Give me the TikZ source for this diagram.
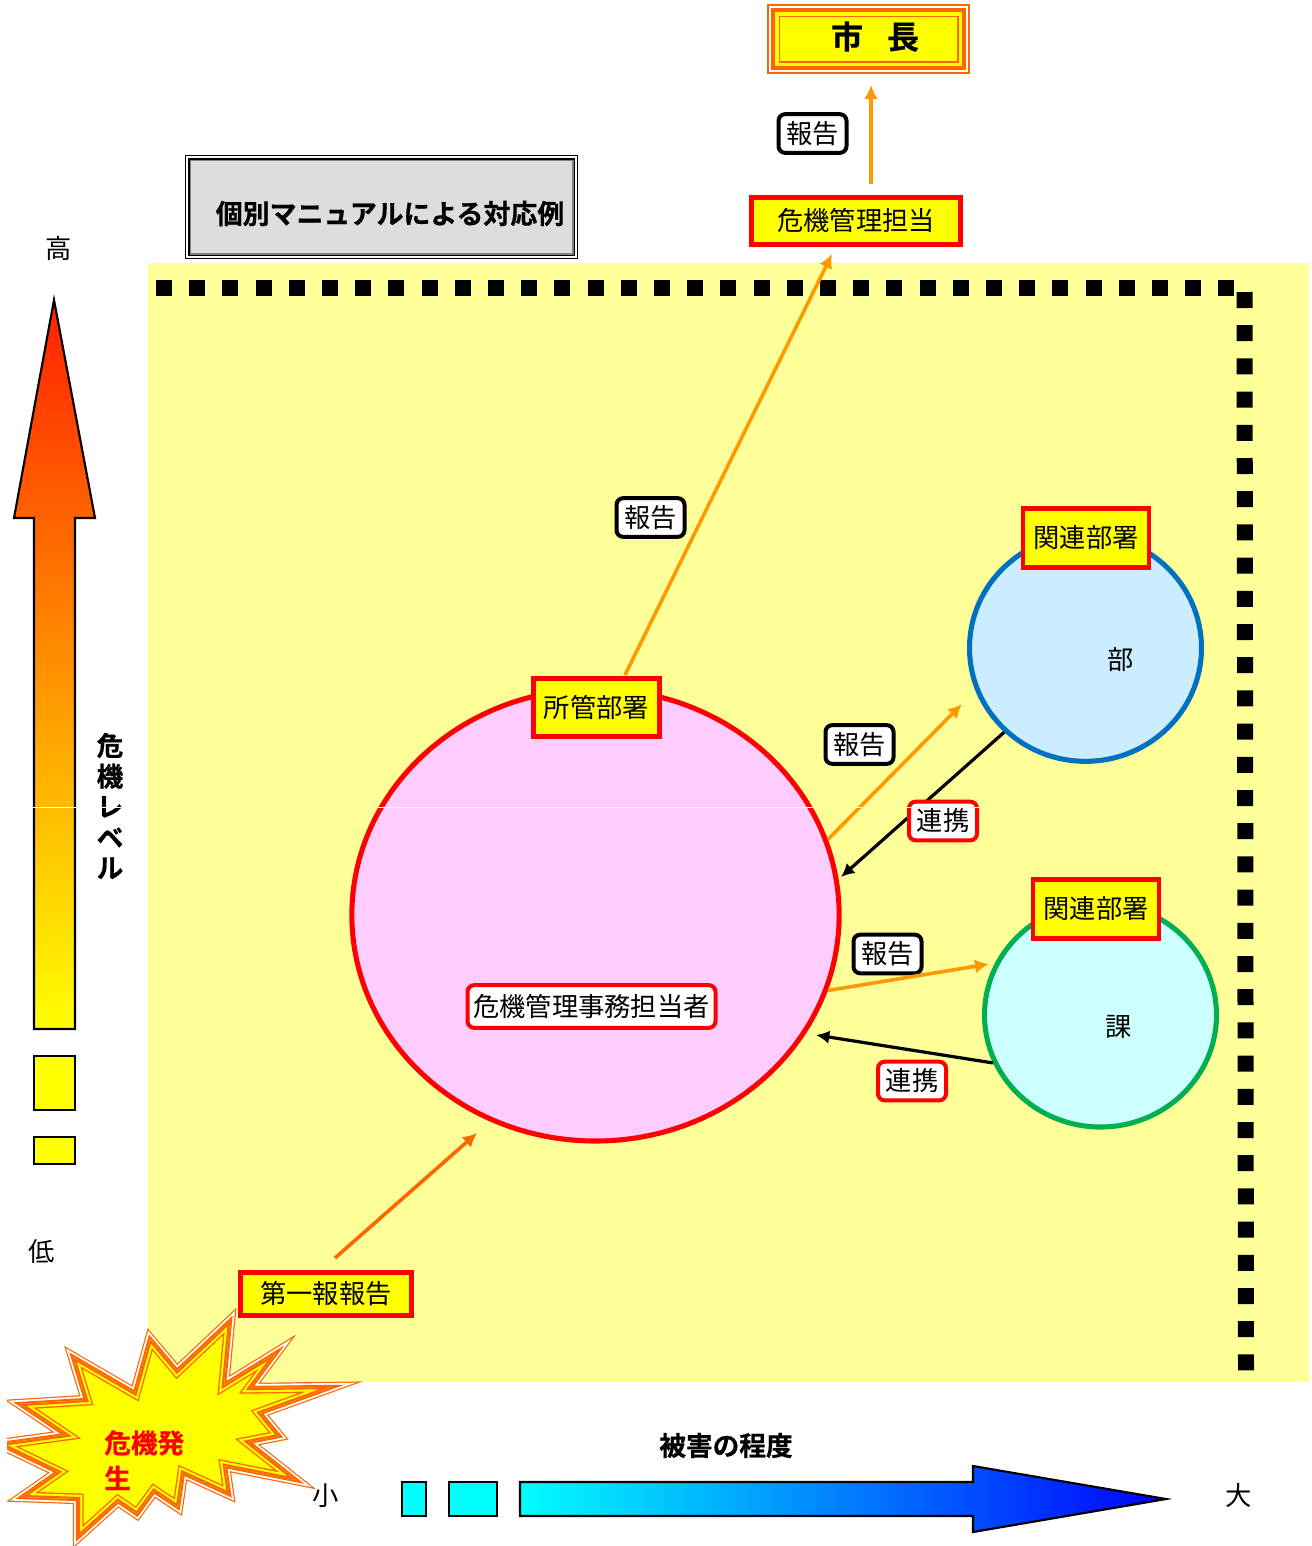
\documentclass[tikz,border=0pt]{standalone}
\usepackage{fontspec}
\setmainfont{Noto Sans CJK JP}[BoldFont={Noto Sans CJK JP Bold},BoldFeatures={FakeBold=0.6}]
\usetikzlibrary{shapes.geometric,arrows.meta}

\definecolor{areayellow}{HTML}{FFFF99}
\definecolor{pureyellow}{HTML}{FFFF00}
\definecolor{purecyan}{HTML}{00FFFF}
\definecolor{pureblue}{HTML}{0000FF}
\definecolor{purered}{HTML}{FF0000}
\definecolor{bandorange}{HTML}{FF6600}
\definecolor{arroworange}{HTML}{FF9900}
\definecolor{leveltop}{HTML}{FF2000}
\definecolor{levelmid}{HTML}{FFA800}
\definecolor{titlegray}{HTML}{DDDDDD}
\definecolor{linegray}{HTML}{808080}
\definecolor{bufill}{HTML}{CCECFF}
\definecolor{bublue}{HTML}{0070C0}
\definecolor{kafill}{HTML}{CCFFFF}
\definecolor{kagreen}{HTML}{00B050}
\definecolor{mainfill}{HTML}{FFCCFF}

\newcommand{\jtext}[1]{\fontsize{#1}{#1}\selectfont}
\newcommand{\burstpath}{(73,57) -- (135,93) -- (150,39) -- (177,71) -- (230,21) -- (224,85) -- (276,53) -- (250,88) -- (332,87) -- (260,113) -- (279,136) -- (248,142) -- (296,180) -- (225,166) -- (229,194) -- (183,173) -- (178,207) -- (154,191) -- (137,214) -- (118,201) -- (78,237) -- (78,199) -- (22,197) -- (58,172) -- (0,144) -- (66,135) -- (20,104) -- (86,100) -- cycle}

\begin{document}
\begin{tikzpicture}[x=0.75pt,y=-0.75pt,
    redbox/.style={draw=purered,line width=3.6pt,fill=pureyellow,rectangle,inner sep=0pt,font=\jtext{19.7}},
    tagbox/.style={draw=#1,line width=3pt,fill=white,rectangle,rounded corners=5pt,inner sep=0pt,minimum height=29pt,minimum width=51pt,font=\jtext{19.7}},
    round/.style={ellipse,line width=3.8pt,inner sep=0pt},
    plain/.style={font=\jtext{19.7}},
    heavy/.style={font=\jtext{20}\bfseries},
    reportline/.style={draw=arroworange,line width=2.7pt,-{Latex[length=10.5pt,width=10.5pt]}},
    linkline/.style={draw=black,line width=2.4pt,-{Latex[length=10pt,width=10pt]}},
    dotline/.style={line width=12pt,dash pattern=on 12pt off 12.9pt}]

  \useasboundingbox (0,0) rectangle (1312,1546);

  % area
  \fill[areayellow] (148,263) rectangle (1309,1382);
  \draw[dotline] (156,288) -- (1237,288);
  \draw[dotline] (1244.5,292) -- (1246,1372);

  % mayor
  \foreach \d/\c in {0/bandorange,1.8/white,4/bandorange,8/pureyellow,11.5/bandorange,13/pureyellow}
    \fill[\c] (767+\d,4+\d) rectangle (970-\d,74-\d);
  \node[font=\jtext{24}\bfseries] (mayor) at (875,36.5) {市\hspace{18pt}長};

  % title
  \foreach \d/\c in {0/black,1.3/white,2.7/black,4.5/linegray,6/titlegray}
    \fill[\c] (185+\d,155+\d) rectangle (578-\d,259-\d);
  \node[font=\jtext{20.2}\bfseries,anchor=west,inner sep=0pt] (title) at (215.5,213.5) {個別マニュアルによる対応例};

  % level arrow
  \draw[line width=1.6pt,top color=leveltop,middle color=levelmid,bottom color=pureyellow]
    (54,300) -- (95,518) -- (75,518) -- (75,1029) -- (34,1029) -- (34,518) -- (14,518) -- cycle;
  \draw[line width=1.6pt,fill=pureyellow] (34,1056) rectangle (75,1110);
  \draw[line width=1.6pt,fill=pureyellow] (34,1137) rectangle (75,1164);
  \node[plain] (high) at (59,248.5) {高};
  \node[plain] (low) at (42,1251.5) {低};
  \foreach \t [count=\i from 0] in {危,機,レ,ベ,ル}
    \node[heavy] (level\i) at (110,745.5+30.7*\i) {\t};

  % damage arrow
  \draw[line width=1.6pt,left color=purecyan,right color=pureblue]
    (520,1482) -- (973,1482) -- (973,1466) -- (1166,1499) -- (973,1532) -- (973,1516) -- (520,1516) -- cycle;
  \draw[line width=1.6pt,fill=purecyan] (402,1482) rectangle (426,1516);
  \draw[line width=1.6pt,fill=purecyan] (449,1482) rectangle (497,1516);
  \node[heavy] (damage) at (726,1445.5) {被害の程度};
  \node[plain] (small) at (325.5,1495.5) {小};
  \node[plain] (large) at (1239,1495.5) {大};

  % circles
  \node[round,draw=purered,fill=mainfill,minimum width=365.5pt,minimum height=339pt] (main) at (595.5,915) {};
  \node[round,draw=bublue,fill=bufill,minimum width=174pt,minimum height=170pt] (bu) at (1085.5,648) {};
  \node[round,draw=kagreen,fill=kafill,minimum width=174pt,minimum height=168pt] (ka) at (1100.5,1015) {};
  \node[plain] (butext) at (1121,659.5) {部};
  \node[plain] (katext) at (1119,1026.5) {課};

  % boxes
  \node[redbox,minimum width=94.5pt,minimum height=43.8pt] (shokan) at (596.5,707.5) {所管部署};
  \node[redbox,minimum width=94.5pt,minimum height=43.8pt] (kanren1) at (1086,538) {関連部署};
  \node[redbox,minimum width=94.5pt,minimum height=43.8pt] (kanren2) at (1096,909) {関連部署};
  \node[redbox,minimum width=156.5pt,minimum height=35.5pt] (tanto) at (856,221) {危機管理担当};
  \node[redbox,minimum width=128.5pt,minimum height=32.5pt] (first) at (326,1294) {第一報報告};

  \node[tagbox=purered,minimum width=186pt,minimum height=32pt] (jimu) at (591.5,1006.5) {危機管理事務担当者};
  \node[tagbox=black] (rep1) at (812.5,133.5) {報告};
  \node[tagbox=black] (rep2) at (650.5,517.5) {報告};
  \node[tagbox=black] (rep3) at (859.5,744.5) {報告};
  \node[tagbox=black] (rep4) at (887.5,954) {報告};

  % arrows
  \coordinate (mayortip) at (871,85);
  \coordinate (tantoout) at (871,184);
  \coordinate (tantotip) at (832,254);
  \coordinate (shokanout) at (625,675);
  \coordinate (butip) at (962,704);
  \coordinate (katip) at (989,964);
  \coordinate (mainupper) at (841,877);
  \coordinate (mainlower) at (816,1035);
  \coordinate (firstout) at (335,1258);
  \coordinate (maintip) at (477,1133);

  \draw[reportline] (tantoout) -- (mayortip);
  \draw[reportline] (shokanout) -- (tantotip);
  \draw[reportline] (main.18.5) -- (butip);
  \draw[reportline] (main.-18.5) -- (katip);
  \draw[reportline,draw=bandorange] (firstout) -- (maintip);
  \draw[linkline] (bu.226) -- (mainupper);
  \draw[linkline] (ka.204) -- (mainlower);

  \node[tagbox=purered] (link1) at (943,821) {連携};
  \node[tagbox=purered] (link2) at (912,1081) {連携};

  % burst
  \begin{scope}
    \clip (7,1300) rectangle (380,1546);
    \begin{scope}[shift={(0,1300)}]
      \draw[bandorange,line width=7.8pt,miter limit=20,line join=miter] \burstpath;
      \draw[white,line width=6pt,miter limit=20] \burstpath;
      \draw[bandorange,line width=3.2pt,miter limit=20] \burstpath;
      \fill[pureyellow] \burstpath;
      \begin{scope}
        \clip \burstpath;
        \draw[bandorange,line width=8.4pt,miter limit=20] \burstpath;
        \draw[pureyellow,line width=6.4pt,miter limit=20] \burstpath;
        \draw[bandorange,line width=3.2pt,miter limit=20] \burstpath;
      \end{scope}
    \end{scope}
  \end{scope}
  \node[heavy,text=purered,anchor=north west,align=left,inner sep=0pt] (crisis) at (104,1430) {危機発\\[6.5pt]生};

  % scan line
  \draw[white,line width=1pt] (33,807.5) -- (148,807.5);
  \draw[areayellow,line width=1pt] (148,807.5) -- (1230,807.5);
\end{tikzpicture}
\end{document}
